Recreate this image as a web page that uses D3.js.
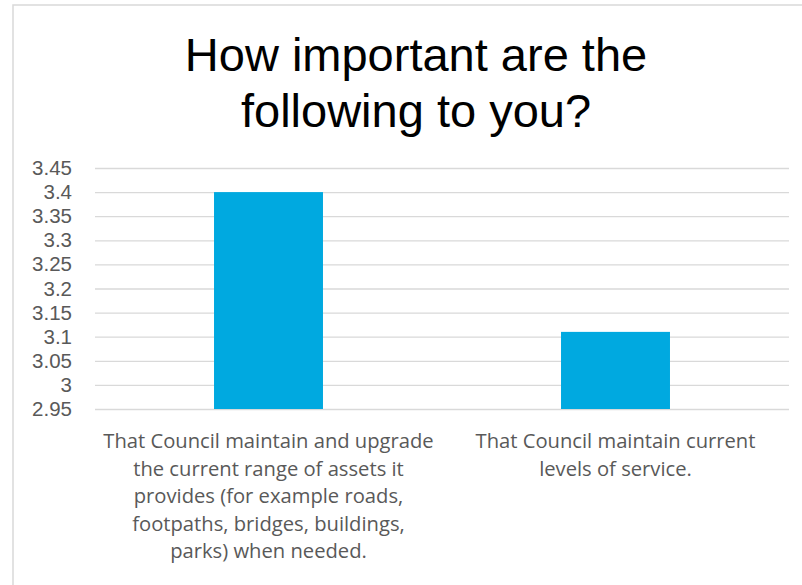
<!DOCTYPE html>
<html>
<head>
<meta charset="utf-8">
<script src="https://cdn.jsdelivr.net/npm/d3@7"></script>
<style>
  body { margin: 0; background: #fff; }
  svg { display: block; }
</style>
</head>
<body>
<svg id="chart"></svg>
<script>
const width = 802
const height = 585

// data
const titleLines = ["How important are the", "following to you?"]
const categories = [
  ["That Council maintain and upgrade", "the current range of assets it", "provides (for example roads,", "footpaths, bridges, buildings,", "parks) when needed."],
  ["That Council maintain current", "levels of service."]
]
const values = [3.4, 3.11]
const yTicks = [2.95, 3, 3.05, 3.1, 3.15, 3.2, 3.25, 3.3, 3.35, 3.4, 3.45]

const plot = { left: 95, right: 789, top: 168, bottom: 409 }
const barColour = "#00a9e0"
const gridColour = "#d9d9d9"
const textColour = "#595959"
const labelFont = "'Open Sans', 'Noto Sans', sans-serif"

const svg = d3.select("#chart")
    .attr("width", width)
    .attr("height", height)

// outer frame, right and bottom edges run off the picture
svg.append("rect")
    .attr("x", 13)
    .attr("y", 5)
    .attr("width", width)
    .attr("height", height)
    .attr("fill", "none")
    .attr("stroke", gridColour)
    .attr("stroke-width", 1.5)

svg.append("text")
    .attr("x", 416)
    .attr("y", 71)
    .attr("text-anchor", "middle")
    .attr("font-family", "'Liberation Sans', Arial, sans-serif")
    .attr("font-size", 47)
    .attr("fill", "#000")
    .selectAll("tspan")
    .data(titleLines)
    .join("tspan")
    .attr("x", 416)
    .attr("dy", (d, i) => i === 0 ? 0 : 56)
    .text(d => d)

const x = d3.scaleBand()
    .domain(d3.range(categories.length))
    .range([plot.left, plot.right])

const y = d3.scaleLinear()
    .domain([2.95, 3.45])
    .range([plot.bottom, plot.top])

// tick text in Liberation Sans: its line box fits the 24px tick step
const yAxis = svg.append("g")
    .attr("transform", `translate(${plot.left},0)`)
    .call(d3.axisLeft(y)
        .tickValues(yTicks)
        .tickSize(-(plot.right - plot.left))
        .tickPadding(23)
        .tickFormat(d3.format("")))
yAxis.select(".domain").remove()
yAxis.selectAll(".tick line")
    .attr("stroke", gridColour)
    .attr("stroke-width", 1.3)
yAxis.selectAll(".tick text")
    .attr("fill", textColour)
    .attr("font-family", "'Liberation Sans', Arial, sans-serif")
    .attr("font-size", 20.5)

const barWidth = x.bandwidth() * 0.314
svg.append("g")
    .selectAll("rect")
    .data(values)
    .join("rect")
    .attr("x", (d, i) => x(i) + (x.bandwidth() - barWidth) / 2)
    .attr("y", d => y(d))
    .attr("width", barWidth)
    .attr("height", d => y(2.95) - y(d))
    .attr("fill", barColour)

svg.append("g")
    .selectAll("text")
    .data(categories)
    .join("text")
    .attr("text-anchor", "middle")
    .attr("font-family", labelFont)
    .attr("font-size", 20.2)
    .attr("fill", textColour)
    .attr("y", 448)
    .each(function (lines, i) {
        const cx = x(i) + x.bandwidth() / 2
        d3.select(this).selectAll("tspan")
            .data(lines)
            .join("tspan")
            .attr("x", cx)
            .attr("dy", (d, j) => j === 0 ? 0 : 27.5)
            .text(d => d)
    })
</script>
</body>
</html>
